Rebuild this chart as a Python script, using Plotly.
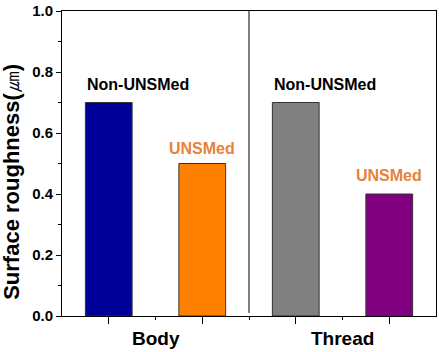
import plotly.graph_objects as go

# Data
positions = [1, 3, 5, 7]
values = [0.7, 0.5, 0.7, 0.4]
bar_colors = ["#000099", "#FF8000", "#808080", "#800080"]
bar_labels = ["Non-UNSMed", "UNSMed", "Non-UNSMed", "UNSMed"]
label_x = [0.5, 3, 4.5, 7]
label_anchor = ["left", "center", "left", "center"]
label_y = [0.76, 0.55, 0.76, 0.46]
label_colors = ["#000000", "#E8823A", "#000000", "#E8823A"]
groups = ["Body", "Thread"]
group_pos = [2, 6]
y_title = "Surface roughness(<span style='font-weight:normal'>㎛</span>)"

FONT = "Liberation Sans, Arial, sans-serif"

fig = go.Figure()
fig.add_trace(go.Bar(
    x=positions, y=values, width=1,
    marker=dict(color=bar_colors, line=dict(color="#333333", width=1)),
    showlegend=False, hoverinfo="skip",
))

for xp, yp, t, c, a in zip(label_x, label_y, bar_labels, label_colors, label_anchor):
    fig.add_annotation(x=xp, y=yp, text=f"<b>{t}</b>", showarrow=False, xanchor=a,
                       font=dict(family=FONT, size=16, color=c))

for xp, t in zip(group_pos, groups):
    fig.add_annotation(x=xp, y=0, yref="paper", yshift=-35, text=f"<b>{t}</b>",
                       showarrow=False, font=dict(family=FONT, size=19, color="black"))

fig.add_annotation(x=0, xref="paper", xanchor="center", xshift=-50,
                   y=0.44, yref="paper", yanchor="middle",
                   text=f"<b>{y_title}</b>", textangle=-90, showarrow=False,
                   font=dict(family=FONT, size=22, color="black"))

fig.add_shape(type="line", x0=4, x1=4, y0=0.01, y1=1, xref="x", yref="y",
              line=dict(color="black", width=1))

fig.update_layout(
    width=439, height=352,
    margin=dict(l=62, r=2, t=9, b=36),
    plot_bgcolor="white", paper_bgcolor="white",
    font=dict(family=FONT, color="black"),
    xaxis=dict(range=[0, 8], tickvals=[1, 3, 5, 7], ticktext=["", "", "", ""],
               ticks="outside", ticklen=7, tickwidth=1, tickcolor="black",
               minor=dict(tickvals=[2, 4, 6], ticks="outside", ticklen=3, tickcolor="black"),
               showline=True, linecolor="black", linewidth=1, mirror=True,
               showgrid=False, zeroline=False, fixedrange=True),
    yaxis=dict(range=[0, 1], dtick=0.2, tickformat=".1f",
               ticks="outside", ticklen=5, tickwidth=1, tickcolor="black",
               minor=dict(dtick=0.1, ticks="outside", ticklen=3, tickcolor="black"),
               tickfont=dict(family=FONT, size=15, color="black", weight="bold"),
               showline=True, linecolor="black", linewidth=1, mirror=True,
               showgrid=False, zeroline=False),
)

fig.write_html("out.html")
